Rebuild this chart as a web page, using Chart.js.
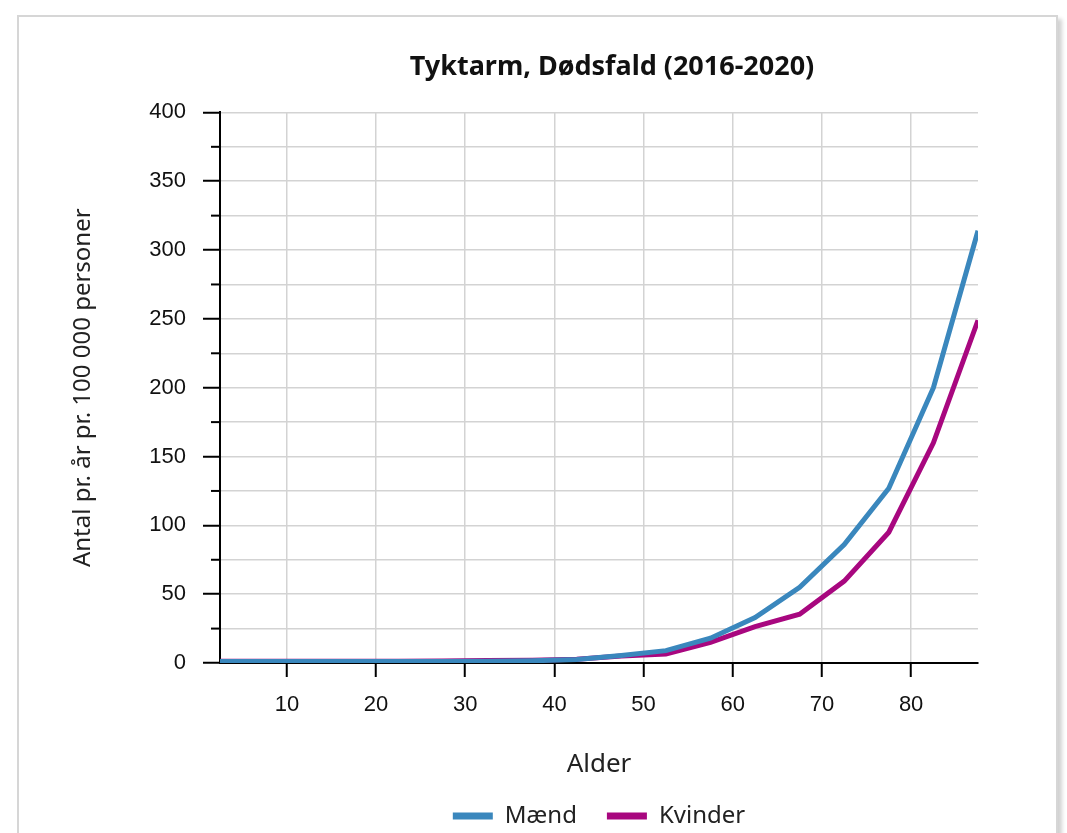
<!DOCTYPE html>
<html>
<head>
<meta charset="utf-8">
<script src="https://cdn.jsdelivr.net/npm/chart.js@4"></script>
<style>
  html, body { margin: 0; padding: 0; background: #fff; overflow: hidden; }
  #card {
    position: absolute; left: 17px; top: 15px; width: 1037px; height: 900px;
    border: 2px solid #d6d6d6; box-shadow: 4px 4px 4px rgba(0,0,0,0.18); background: #fff;
  }
  #chart { position: absolute; left: 0; top: 0; }
</style>
</head>
<body>
<div id="card"></div>
<canvas id="chart" width="1067" height="880"></canvas>
<script>
// aldersgrupper (midtpunkt af 5-års grupper)
const ages = [2.5, 7.5, 12.5, 17.5, 22.5, 27.5, 32.5, 37.5, 42.5, 47.5, 52.5, 57.5, 62.5, 67.5, 72.5, 77.5, 82.5, 87.5];
const maend = [1, 1, 1, 1, 1, 1, 1.3, 1.6, 2.5, 5.5, 9, 18, 33, 55, 86, 127, 200, 314];
const kvinder = [1.2, 1.2, 1.2, 1.2, 1.2, 1.4, 1.8, 2, 2.7, 5, 6.5, 15, 26.5, 35.5, 59.5, 95, 160, 249];
const xTicks = [10, 20, 30, 40, 50, 60, 70, 80];
const seriesNames = ['Mænd', 'Kvinder'];
const colors = ['#3a87bd', '#a8077f'];

const toPoints = (vals) => ages.map((a, i) => ({ x: a, y: vals[i] }));

// korte mellem-streger paa y-aksen
const minorTicks = {
  id: 'minorTicks',
  afterDraw(chart) {
    const s = chart.scales.y;
    const ctx = chart.ctx;
    ctx.save();
    ctx.strokeStyle = '#000';
    ctx.lineWidth = 2;
    s.ticks.forEach(t => {
      if (t.value % 50 !== 0) {
        const y = s.getPixelForValue(t.value);
        ctx.beginPath();
        ctx.moveTo(s.right - 9, y);
        ctx.lineTo(s.right, y);
        ctx.stroke();
      }
    });
    ctx.restore();
  }
};

// flyt titlen lidt til hoejre
const titleShift = {
  id: 'titleShift',
  afterLayout(chart) {
    if (chart.titleBlock) {
      chart.titleBlock.left += 13;
      chart.titleBlock.right += 13;
    }
  }
};

new Chart(document.getElementById('chart').getContext('2d'), {
  type: 'line',
  data: {
    datasets: [
      {
        label: seriesNames[0],
        data: toPoints(maend),
        borderColor: colors[0],
        backgroundColor: colors[0],
        borderWidth: 5,
        pointRadius: 0,
        tension: 0,
        fill: false
      },
      {
        label: seriesNames[1],
        data: toPoints(kvinder),
        borderColor: colors[1],
        backgroundColor: colors[1],
        borderWidth: 5,
        pointRadius: 0,
        tension: 0,
        fill: false
      }
    ]
  },
  options: {
    responsive: false,
    animation: false,
    devicePixelRatio: 1,
    layout: { padding: { left: 0, right: 89, top: 0, bottom: 42 } },
    plugins: {
      title: {
        display: true,
        text: 'Tyktarm, Dødsfald (2016-2020)',
        fullSize: false,
        color: '#111',
        font: { family: 'Noto Sans', size: 27, weight: 'bold' },
        padding: { top: 51, bottom: 29 }
      },
      legend: {
        position: 'bottom',
        fullSize: false,
        labels: {
          boxWidth: 40,
          boxHeight: 7,
          padding: 30,
          color: '#222',
          font: { family: 'Noto Sans', size: 24 },
          generateLabels: (chart) => Chart.defaults.plugins.legend.labels.generateLabels(chart)
            .map(l => Object.assign(l, { lineWidth: 0 }))
        }
      },
      tooltip: { enabled: false }
    },
    scales: {
      x: {
        type: 'linear',
        min: 2.5,
        max: 87.5,
        afterBuildTicks: (ax) => { ax.ticks = xTicks.map(v => ({ value: v })); },
        afterFit: (s) => { s.height = 111; },
        grid: { color: '#d3d3d3', lineWidth: 1.5, tickLength: 14, tickColor: '#000', tickWidth: 2 },
        border: { color: '#000', width: 2 },
        ticks: {
          color: '#111',
          font: { family: 'Liberation Sans', size: 22 },
          padding: 15,
          maxRotation: 0,
          autoSkip: false
        },
        title: {
          display: true,
          text: 'Alder',
          color: '#222',
          font: { family: 'Noto Sans', size: 26 },
          padding: { top: 0, bottom: -6 }
        }
      },
      y: {
        min: 0,
        max: 400,
        afterFit: (s) => { s.width = 220; },
        grid: {
          color: '#d3d3d3',
          lineWidth: 1.5,
          tickLength: 17,
          tickWidth: 2,
          tickColor: (ctx) => (ctx.tick && ctx.tick.value % 50 === 0) ? '#000' : 'rgba(0,0,0,0)'
        },
        border: { color: '#000', width: 2 },
        ticks: {
          stepSize: 25,
          autoSkip: false,
          color: '#111',
          font: { family: 'Liberation Sans', size: 22 },
          padding: 17,
          callback: (v) => v % 50 === 0 ? v : ''
        },
        title: {
          display: true,
          text: 'Antal pr. år pr. 100 000 personer',
          color: '#222',
          font: { family: 'Noto Sans', size: 24 },
          padding: { top: 69, bottom: 0 }
        }
      }
    }
  },
  plugins: [minorTicks, titleShift]
});
</script>
</body>
</html>
